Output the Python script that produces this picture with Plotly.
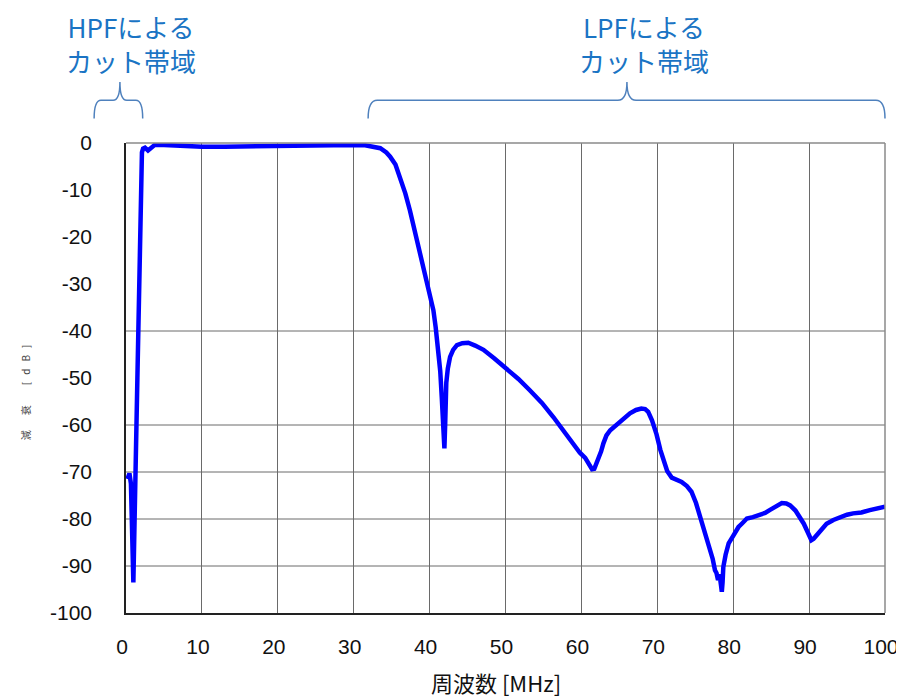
import plotly.graph_objects as go

# ---- data ----
freq_mhz = [0.2, 0.45, 0.65, 0.8, 0.97, 1.5, 2.0, 2.1, 2.25, 2.5, 2.9, 3.3, 3.8, 5, 7, 10, 13, 16, 20, 25,
            28, 30, 31.5, 32.5, 33.5, 34.3, 34.8, 35.5, 36.1, 36.8, 37.4, 38.0, 38.7, 39.3, 39.8, 40.2,
            40.5, 40.8, 41.1, 41.4, 41.6, 41.8, 41.95, 42.05, 42.2, 42.4, 42.7, 43.1, 43.6, 44.3, 45.1,
            46.0, 47.1, 48.5, 50.2, 51.7, 53.2, 54.8, 56.3, 57.7, 58.9, 59.8, 60.5, 61.0, 61.4, 61.7,
            62.2, 62.6, 62.9, 63.3, 63.8, 64.4, 65.1, 65.8, 66.4, 67.2, 67.9, 68.4, 68.8, 69.3, 69.9,
            70.4, 70.8, 71.3, 71.9, 72.5, 73.2, 73.9, 74.5, 75.1, 75.8, 76.3, 76.9, 77.3, 77.6, 77.8,
            78.0, 78.2, 78.4, 78.5, 78.6, 78.7, 79.0, 79.4, 80.0, 80.7, 81.2, 81.8, 82.6, 83.5, 84.2,
            84.8, 85.6, 86.4, 87.0, 87.5, 88.2, 88.8, 89.3, 89.7, 90.0, 90.3, 90.6, 91.0, 91.6, 92.3,
            93.2, 94.1, 95.0, 95.8, 96.9, 98.0, 99.0, 100]
atten_db = [-71.5, -70.3, -72.5, -82, -93.5, -50, -4, -2, -1.2, -1.0, -1.6, -1.0, -0.4, -0.4, -0.6, -0.8,
            -0.8, -0.7, -0.5, -0.4, -0.3, -0.4, -0.5, -0.7, -1.1, -2.0, -2.9, -4.6, -7.2, -10.7, -14.3,
            -18.4, -22.8, -27.2, -30.6, -33.3, -35.6, -39.2, -43.4, -48.5, -54, -60, -65, -60, -51, -48,
            -45.5, -44, -43, -42.6, -42.5, -43.1, -44, -45.8, -48, -50.2, -52.6, -55.3, -58.3, -61.4,
            -64.3, -65.9, -67, -68.4, -69.4, -69.3, -67.5, -65.6, -63.9, -62.2, -61.1, -60.3, -59.3,
            -58.3, -57.5, -56.8, -56.5, -56.6, -57.2, -59, -62, -65.3, -67.5, -69.8, -71.2, -71.7,
            -72.1, -73, -74.2, -76.6, -80.3, -82.8, -85.9, -88.5, -90.9, -91.5, -93, -91.8, -94.2,
            -95.5, -93.5, -90.2, -87.6, -85.2, -83.6, -81.7, -80.9, -79.9, -79.6, -79.2, -78.7, -78.1,
            -77.3, -76.6, -76.7, -77.1, -78.2, -79.6, -81, -82.4, -83.6, -84.5, -84.2, -83.5, -82.2,
            -81, -80.2, -79.6, -79.1, -78.8, -78.6, -78.1, -77.8, -77.4]

x_ticks = [0, 10, 20, 30, 40, 50, 60, 70, 80, 90, 100]
y_ticks = [0, -10, -20, -30, -40, -50, -60, -70, -80, -90, -100]
y_tick_labels = ["0", "-10", "-20", "-30", "-40", "-50", "-60", "-70", "-80", "-90", "-100"]
h_grid = [-40, -60, -70, -80, -90]

X_MIN, X_MAX = 0, 100

# cut-band braces: (x start, x end, tip, label, label x) in MHz
bands = [(-4.2, 2.2, -0.8, "HPFによる<br>カット帯域", 0.6),
         (31.9, 100.0, 66.0, "LPFによる<br>カット帯域", 68.3)]

X_TITLE = "周波数 [MHz]"
Y_TITLE = "減\u3000\u2002衰\u3000\u3000[\u2002\u2009d\u2002\u2009B\u2002\u2009]"

TEXT_BLUE = "#1a74c4"
BRACE_BLUE = "#4f81bd"


def to_paper(v):
    return (v - X_MIN) / (X_MAX - X_MIN)


fig = go.Figure()
fig.add_trace(go.Scatter(x=freq_mhz, y=atten_db, mode="lines",
                         line=dict(color="#0000ff", width=4.5), showlegend=False))

shapes = []
for yv in h_grid:
    shapes.append(dict(type="line", xref="x", yref="y", x0=X_MIN, x1=X_MAX, y0=yv, y1=yv,
                       line=dict(color="#6a6a6a", width=1), layer="below"))

# plot frame: top/right gray
shapes.append(dict(type="line", xref="paper", yref="paper", x0=0, x1=1, y0=1, y1=1,
                   line=dict(color="#8a8a8a", width=1.5)))
shapes.append(dict(type="line", xref="paper", yref="paper", x0=1, x1=1, y0=0, y1=1,
                   line=dict(color="#8a8a8a", width=1.5)))

annotations = []
for (xa, xb, xt, label, xlab) in bands:
    pa, pb, pt = to_paper(xa), to_paper(xb), to_paper(xt)
    y_end = 1.052
    y_mid = 1.091
    y_tip = 1.13
    r = 0.009 if xb - xa < 10 else 0.012
    path = (f"M {pa},{y_end} Q {pa},{y_mid} {pa + r},{y_mid} "
            f"L {pt - r},{y_mid} Q {pt},{y_mid} {pt},{y_tip} "
            f"Q {pt},{y_mid} {pt + r},{y_mid} L {pb - r},{y_mid} Q {pb},{y_mid} {pb},{y_end}")
    shapes.append(dict(type="path", xref="paper", yref="paper", path=path,
                       line=dict(color=BRACE_BLUE, width=1.5)))
    annotations.append(dict(x=xlab, y=1.212, xref="x", yref="paper", text=label, showarrow=False,
                            xanchor="center", yanchor="middle", align="center",
                            font=dict(family="Noto Sans CJK JP", size=26, color=TEXT_BLUE)))

annotations.append(dict(x=-0.133, y=0.47, xref="paper", yref="paper", text=Y_TITLE,
                        showarrow=False, textangle=-90, xanchor="center", yanchor="middle",
                        font=dict(family="Noto Sans CJK JP", size=10, color="#444444")))

annotations.append(dict(x=0.487, y=-0.146, xref="paper", yref="paper", text=X_TITLE,
                        showarrow=False, xanchor="center", yanchor="middle", borderpad=0,
                        font=dict(family="Noto Sans CJK JP", size=22, color="#111111")))

# the page body adds an 8 px offset, so the figure is 8 px smaller on each side
fig.update_layout(
    width=896, height=691,
    margin=dict(l=118, r=19, t=135, b=86),
    paper_bgcolor="white", plot_bgcolor="white",
    shapes=shapes, annotations=annotations,
    xaxis=dict(range=[X_MIN, X_MAX], tickvals=x_ticks, showgrid=True, gridcolor="#6a6a6a", gridwidth=1,
               zeroline=False, showline=True, linecolor="#222222", linewidth=1.5,
               ticks="", ticklabelstandoff=14, ticklabelshift=-4, automargin=False,
               tickfont=dict(family="Liberation Sans", size=21, color="#111111")),
    yaxis=dict(range=[-100, 0], tickvals=y_ticks, ticktext=y_tick_labels, showgrid=False,
               zeroline=False, showline=True, linecolor="#222222", linewidth=1.5,
               ticks="", ticklabelstandoff=28, automargin=False,
               tickfont=dict(family="Liberation Sans", size=21, color="#111111")),
)

fig.write_html("out.html")
